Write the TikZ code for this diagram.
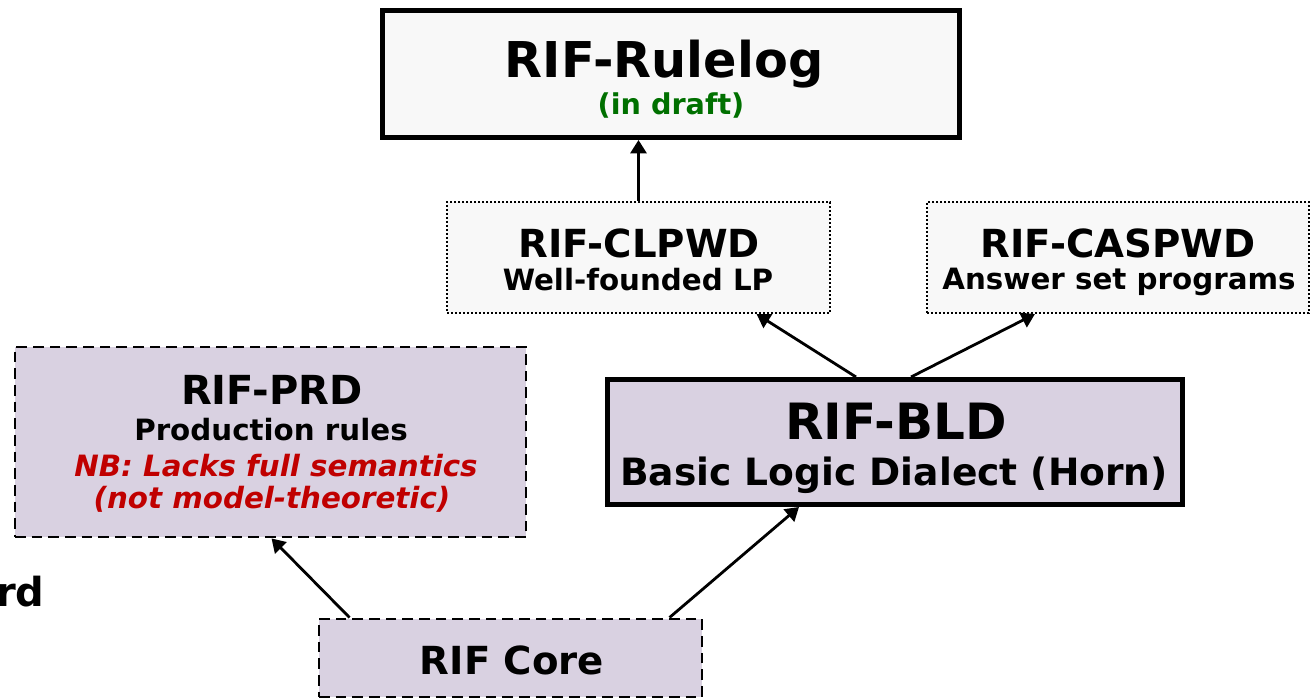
\documentclass[tikz,border=0pt]{standalone}
\usepackage{fontspec}
\setmainfont{DejaVu Sans}
\usetikzlibrary{arrows.meta,fit}
\definecolor{boxgray}{HTML}{F8F8F8}
\definecolor{boxpurple}{HTML}{D9D1E1}
\definecolor{draftgreen}{HTML}{007000}
\definecolor{nbred}{HTML}{C00000}
\newcommand{\fs}[1]{\fontsize{#1}{#1}\selectfont\bfseries}
\begin{document}
\begin{tikzpicture}[x=0.75pt,y=-0.75pt,
  thickbox/.style={draw=black, line width=3.75pt, inner sep=0pt},
  dotbox/.style={draw=black, line width=1.6pt, dash pattern=on 1.5pt off 1.5pt, fill=boxgray, inner sep=0pt},
  dashbox/.style={draw=black, line width=2.2pt, dash pattern=on 8pt off 4.5pt, fill=boxpurple, inner sep=0pt},
  txt/.style={anchor=base, inner sep=0pt},
  conn/.style={line width=2.1pt, -{Triangle[length=10pt, width=12pt]}}]
\useasboundingbox (0,0) rectangle (1315,698);
% boxes
\node[thickbox, fill=boxgray, fit={(382.5,10.5) (959.5,137.5)}] (rulelog) {};
\node[dotbox, fit={(447,202) (830,313)}] (clpwd) {};
\node[dotbox, fit={(927,202) (1309,313)}] (caspwd) {};
\node[dashbox, fit={(15,347) (526,537)}] (prd) {};
\node[thickbox, fill=boxpurple, fit={(607.5,379.5) (1182.5,504.5)}] (bld) {};
\node[dashbox, fit={(319,619) (702,697)}] (core) {};
% texts
\node[txt] (rulelogT) at (664,78) {\fs{37pt}RIF-Rulelog};
\node[txt, text=draftgreen] (rulelogS) at (671,115) {\fs{21.5pt}(in draft)};
\node[txt] (clpwdT) at (639,258) {\fs{29pt}RIF-CLPWD};
\node[txt] (clpwdS) at (638,291) {\fs{22pt}Well-founded LP};
\node[txt] (caspwdT) at (1118,258) {\fs{29pt}RIF-CASPWD};
\node[txt] (caspwdS) at (1119,290) {\fs{22pt}Answer set programs};
\node[txt] (prdT) at (272,405) {\fs{30pt}RIF-PRD};
\node[txt] (prdS) at (271,441) {\fs{22pt}Production rules};
\node[txt, text=nbred] (prdN1) at (276,477) {\fs{22pt}\itshape NB: Lacks full semantics};
\node[txt, text=nbred] (prdN2) at (272,509) {\fs{22pt}\itshape (not model-theoretic)};
\node[txt] (bldT) at (896,440) {\fs{37.5pt}RIF-BLD};
\node[txt] (bldS) at (894,486) {\fs{28.2pt}Basic Logic Dialect (Horn)};
\node[txt] (coreT) at (512,675) {\fs{29pt}RIF Core};
\node[txt, anchor=base west] (rd) at (-4,607) {\fs{30pt}rd};
% connectors
\draw[conn] (clpwd.north) -- (clpwd.north |- rulelog.south);
\draw[conn] ([xshift=188.25pt]bld.north west) -- ([xshift=233pt]clpwd.south west);
\draw[conn] ([xshift=229.5pt]bld.north west) -- ([xshift=81.75pt]caspwd.south west);
\draw[conn] ([xshift=24pt]core.north west) -- ([xshift=193.5pt]prd.south west);
\draw[conn] ([xshift=264pt]core.north west) -- ([xshift=145.5pt]bld.south west);
\end{tikzpicture}
\end{document}
